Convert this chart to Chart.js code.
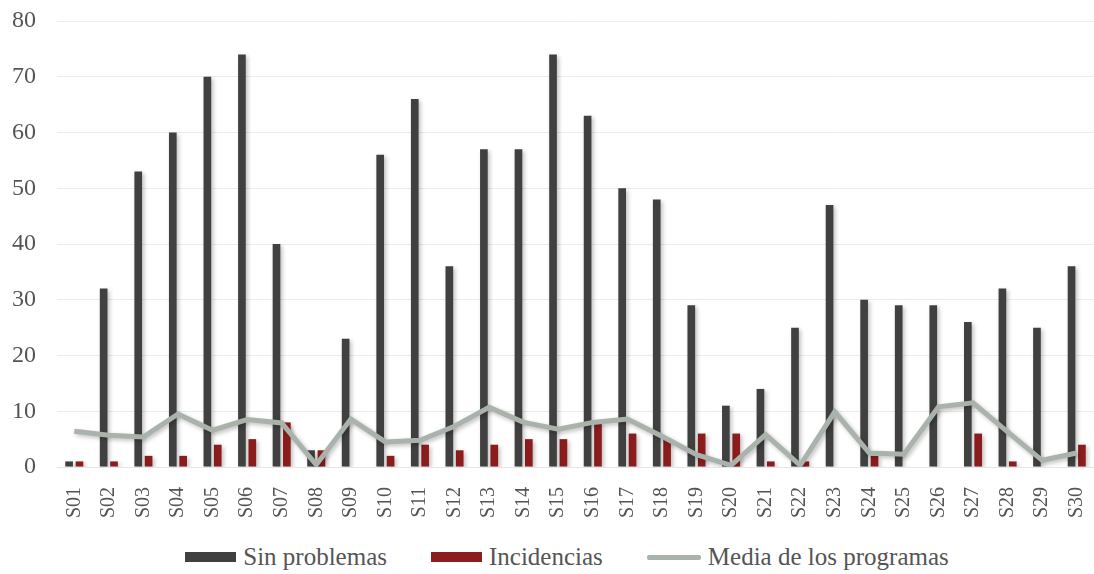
<!DOCTYPE html>
<html>
<head>
<meta charset="utf-8">
<script src="https://cdn.jsdelivr.net/npm/chart.js@4/dist/chart.umd.min.js"></script>
<style>
  html, body { margin: 0; padding: 0; background: #fff; }
  #wrap { width: 1094px; height: 536px; }
  #leyenda {
    width: 1094px; height: 38px; display: flex; justify-content: center; align-items: center;
    font-family: 'Liberation Serif', 'DejaVu Serif', serif; font-size: 25px; color: #555;
    padding-left: 40px; padding-top: 4px; box-sizing: border-box;
  }
  #leyenda span.item { display: flex; align-items: center; margin: 0 22px; }
  #leyenda i { display: inline-block; width: 51px; margin-right: 7px; }
</style>
</head>
<body>
<div id="wrap"><canvas id="chart"></canvas></div>
<div id="leyenda"></div>
<script>
const semanas = ['S01','S02','S03','S04','S05','S06','S07','S08','S09','S10',
  'S11','S12','S13','S14','S15','S16','S17','S18','S19','S20',
  'S21','S22','S23','S24','S25','S26','S27','S28','S29','S30'];
const sinProblemas = [1, 32, 53, 60, 70, 74, 40, 3, 23, 56, 66, 36, 57, 57, 74, 63, 50, 48, 29, 11, 14, 25, 47, 30, 29, 29, 26, 32, 25, 36];
const incidencias = [1, 1, 2, 2, 4, 5, 8, 3, 0, 2, 4, 3, 4, 5, 5, 8, 6, 5, 6, 6, 1, 1, 0, 2, 0, 0, 6, 1, 0, 4];
const mediaProgramas = [6.4, 5.7, 5.4, 9.5, 6.6, 8.5, 7.9, 0.4, 8.6, 4.5, 4.8, 7.3, 10.7, 8.0, 6.8, 8.0, 8.6, 5.5, 2.2, 0.3, 5.8, 0.3, 9.9, 2.5, 2.3, 10.8, 11.5, 6.3, 1.2, 2.5];

// sombra suave bajo barras y linea
const shadowPlugin = {
  id: 'shadow',
  beforeDatasetsDraw(chart) {
    const ctx = chart.ctx;
    ctx.save();
    ctx.shadowColor = 'rgba(0,0,0,0.25)';
    ctx.shadowBlur = 4;
    ctx.shadowOffsetX = 2;
    ctx.shadowOffsetY = 2;
  },
  afterDatasetsDraw(chart) {
    chart.ctx.restore();
  }
};

// leyenda en HTML debajo del canvas
const htmlLegend = {
  id: 'htmlLegend',
  afterUpdate(chart) {
    const box = document.getElementById('leyenda');
    box.innerHTML = '';
    chart.data.datasets.forEach(ds => {
      const item = document.createElement('span');
      item.className = 'item';
      const mark = document.createElement('i');
      if (ds.type === 'line') {
        mark.style.height = '5px';
        mark.style.borderRadius = '2px';
        mark.style.width = '54px';
      } else {
        mark.style.height = '10px';
      }
      mark.style.background = ds.backgroundColor;
      item.appendChild(mark);
      item.appendChild(document.createTextNode(ds.label));
      box.appendChild(item);
    });
  }
};

const serif = "'Liberation Serif', 'DejaVu Serif', serif";
const textColor = '#555';

new Chart(document.getElementById('chart').getContext('2d'), {
  type: 'bar',
  data: {
    labels: semanas,
    datasets: [
      {
        label: 'Sin problemas',
        data: sinProblemas,
        backgroundColor: '#404040',
        categoryPercentage: 0.6,
        barPercentage: 0.74,
        order: 1
      },
      {
        label: 'Incidencias',
        data: incidencias,
        backgroundColor: '#8d1d1d',
        categoryPercentage: 0.6,
        barPercentage: 0.74,
        order: 1
      },
      {
        type: 'line',
        label: 'Media de los programas',
        data: mediaProgramas,
        borderColor: '#a9b2ab',
        backgroundColor: '#a9b2ab',
        borderWidth: 5,
        pointRadius: 0,
        tension: 0,
        order: 0
      }
    ]
  },
  options: {
    responsive: true,
    maintainAspectRatio: false,
    animation: false,
    layout: { padding: { left: 0, right: -6, top: 5, bottom: 0 } },
    scales: {
      x: {
        grid: { display: false, drawTicks: false },
        border: { color: '#e6e6e6' },
        ticks: {
          color: textColor,
          padding: 20,
          font: { family: serif, size: 20 },
          minRotation: 90,
          maxRotation: 90,
          autoSkip: false
        },
        afterFit(scale) {
          scale.height = 69;
          scale.paddingRight = 0;
        }
      },
      y: {
        min: 0,
        max: 80,
        ticks: {
          stepSize: 10,
          color: textColor,
          padding: 21,
          font: { family: serif, size: 24 }
        },
        grid: { color: '#ececec', drawTicks: false },
        border: { display: false },
        afterFit(scale) {
          scale.width = 57;
          scale.paddingTop = 21;
        }
      }
    },
    plugins: {
      tooltip: { enabled: false },
      legend: { display: false }
    }
  },
  plugins: [shadowPlugin, htmlLegend]
});
</script>
</body>
</html>
